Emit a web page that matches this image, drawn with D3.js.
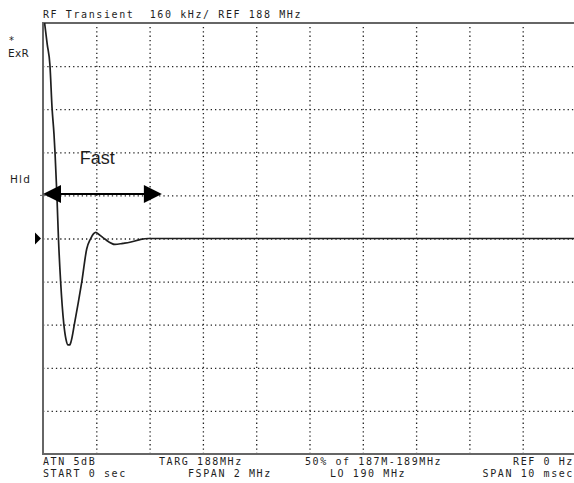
<!DOCTYPE html>
<html><head><meta charset="utf-8">
<script src="https://cdn.jsdelivr.net/npm/d3@7"></script>
<style>
html,body{margin:0;padding:0;background:#fff;}
svg{display:block;}
</style></head>
<body>
<svg id="chart" width="574" height="483"></svg>
<script>
// ---- data ----
const timeMs  = [0.03, 0.08, 0.13, 0.17, 0.206, 0.225, 0.26, 0.29, 0.33, 0.39, 0.43, 0.47, 0.5, 0.53, 0.59, 0.66, 0.73, 0.82, 0.89, 0.95, 0.99, 1.05, 1.16, 1.35, 1.5, 1.63, 1.82, 1.97, 2.5, 3.0, 10];
const freqKHz = [800, 720, 644, 484, 388, 321, 165, 0, -158, -317, -373, -395, -395, -380, -317, -240, -158, -39, -2, 18, 23, 15, -2, -22, -18, -14, -4, 0, 0, 0, 0];
const xTicks = [0,1,2,3,4,5,6,7,8,9,10];
const yTicks = [-800,-640,-480,-320,-160,0,160,320,480,640,800];
const arrowSpan = [0, 2.23];
const arrowFreq = 165;
const titleText = "RF Transient  160 kHz/ REF 188 MHz";
const bottomLeft1 = ["ATN 5dB", "TARG 188MHz", "50% of 187M-189MHz"];
const bottomLeft2 = ["START 0 sec", "FSPAN 2 MHz", "LO 190 MHz"];
const bottomRight = ["REF 0 Hz", "SPAN 10 msec"];
const sideLabels = ["*", "ExR", "Hld"];

// ---- layout ----
const svg = d3.select("#chart");
const L = 43, R = 576, T = 23, B = 454;
const x = d3.scaleLinear().domain([0,10]).range([L,R]);
const y = d3.scaleLinear().domain([-800,800]).range([B,T]);
const mono = "'DejaVu Sans Mono', 'Liberation Mono', monospace";
const ink = "#1e1e1e";

svg.append("defs").append("clipPath").attr("id","plotclip")
  .append("rect").attr("x",L).attr("y",T).attr("width",R-L).attr("height",B-T);

// grid
const gx = svg.append("g").attr("transform",`translate(0,${B})`)
  .call(d3.axisBottom(x).tickValues(xTicks.slice(1,-1)).tickSize(-(B-T)).tickFormat(""));
gx.select(".domain").remove();
gx.selectAll("line").attr("stroke","#222").attr("stroke-width",1.3).attr("stroke-dasharray","1.3,3");

const gy = svg.append("g").attr("transform",`translate(${L},0)`)
  .call(d3.axisLeft(y).tickValues(yTicks.slice(1,-1)).tickSize(-(R-L)).tickFormat(""));
gy.select(".domain").remove();
gy.selectAll("line").attr("stroke","#222").attr("stroke-width",1.3).attr("stroke-dasharray","1.3,3");

// frame
svg.append("line").attr("x1",L).attr("x2",574).attr("y1",T).attr("y2",T).attr("stroke","#666").attr("stroke-width",2);
svg.append("line").attr("x1",L).attr("x2",574).attr("y1",B).attr("y2",B).attr("stroke","#666").attr("stroke-width",2);
svg.append("line").attr("x1",L).attr("x2",L).attr("y1",T-1).attr("y2",B+1).attr("stroke","#666").attr("stroke-width",2);

// trace
const pts = timeMs.map((t,i)=>[t,freqKHz[i]]);
svg.append("path").datum(pts)
  .attr("clip-path","url(#plotclip)")
  .attr("fill","none").attr("stroke",ink).attr("stroke-width",1.7)
  .attr("stroke-linejoin","round")
  .attr("d", d3.line().x(d=>x(d[0])).y(d=>y(d[1])).curve(d3.curveMonotoneX));

// arrow
const ay = y(arrowFreq), ax0 = x(arrowSpan[0]), ax1 = x(arrowSpan[1]);
svg.append("line").attr("x1",ax0+10).attr("x2",ax1-10).attr("y1",ay).attr("y2",ay)
  .attr("stroke","#000").attr("stroke-width",2);
svg.append("path").attr("fill","#000")
  .attr("d",`M${ax0},${ay} L${ax0+18},${ay-9} L${ax0+18},${ay+9} Z`);
svg.append("path").attr("fill","#000")
  .attr("d",`M${ax1},${ay} L${ax1-18},${ay-9} L${ax1-18},${ay+9} Z`);
svg.append("text").attr("x",x(0.69)).attr("y",y(276))
  .attr("font-family","'Liberation Sans', Arial, sans-serif").attr("font-size",18)
  .attr("fill",ink).text("Fast");

// reference marker
const ry = y(0);
svg.append("path").attr("fill","#000").attr("d",`M35,${ry-6} L41,${ry} L35,${ry+6} Z`);
svg.append("line").attr("x1",L-3).attr("x2",L+3).attr("y1",y(160)).attr("y2",y(160)).attr("stroke","#666").attr("stroke-width",1);

// texts
function mtext(str, xx, yy, anchor){
  const t = svg.append("text").attr("x",xx).attr("y",yy)
    .attr("font-family",mono).attr("font-size",10).attr("fill",ink)
    .attr("letter-spacing",1.6).attr("text-anchor",anchor||"start")
    .attr("xml:space","preserve").style("white-space","pre").text(str);
  return t;
}
mtext(titleText, 43, 18);
mtext(bottomLeft1[0], 43, 465);
mtext(bottomLeft1[1], 159, 465);
mtext(bottomLeft1[2], 305, 465);
mtext(bottomLeft2[0], 43, 476.5);
mtext(bottomLeft2[1], 188, 476.5);
mtext(bottomLeft2[2], 330, 476.5);
mtext(bottomRight[0], 574, 465, "end");
mtext(bottomRight[1], 574, 476.5, "end");

const sideFont = "'DejaVu Sans', sans-serif";
svg.append("text").attr("x",9).attr("y",44).attr("font-family",sideFont).attr("font-size",10).attr("fill",ink).text(sideLabels[0]);
svg.append("text").attr("x",8).attr("y",57).attr("font-family",sideFont).attr("font-size",10.5).attr("fill",ink).attr("letter-spacing",0.3).text(sideLabels[1]);
svg.append("text").attr("x",10).attr("y",183).attr("font-family",sideFont).attr("font-size",10.5).attr("fill",ink).attr("letter-spacing",1.2).text(sideLabels[2]);
</script>
</body></html>
